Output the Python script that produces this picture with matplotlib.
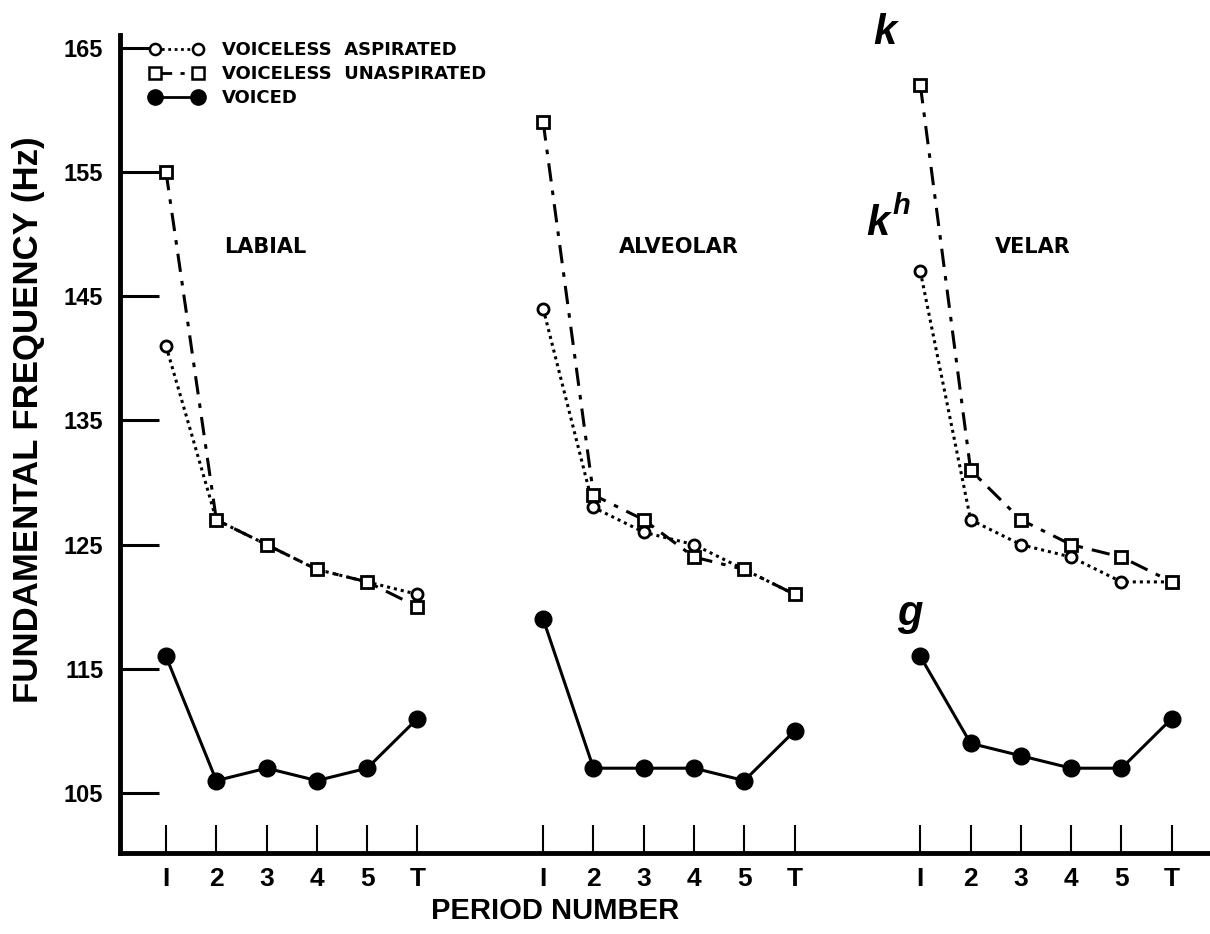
import matplotlib.pyplot as plt
from matplotlib.lines import Line2D

# Werte (Hz)
periods = ["I", "2", "3", "4", "5", "T"]
places = ["LABIAL", "ALVEOLAR", "VELAR"]
group_start = [0, 7.5, 15]

aspirated = {
    "LABIAL": [141, 127, 125, 123, 122, 121],
    "ALVEOLAR": [144, 128, 126, 125, 123, 121],
    "VELAR": [147, 127, 125, 124, 122, 122],
}
unaspirated = {
    "LABIAL": [155, 127, 125, 123, 122, 120],
    "ALVEOLAR": [159, 129, 127, 124, 123, 121],
    "VELAR": [162, 131, 127, 125, 124, 122],
}
voiced = {
    "LABIAL": [116, 106, 107, 106, 107, 111],
    "ALVEOLAR": [119, 107, 107, 107, 106, 110],
    "VELAR": [116, 109, 108, 107, 107, 111],
}
yticks = [105, 115, 125, 135, 145, 155, 165]

plt.rcParams['font.family'] = ['Liberation Sans', 'DejaVu Sans']

fig = plt.figure(figsize=(12.1, 9.34), dpi=100)
ax = fig.add_axes([0.0992, 0.0867, 0.9008, 0.876])

dotted = (0, (1, 1.3))
dashdot = (0, (6, 3, 1.5, 3))
label_shift = [1.97, 2.7, 2.24]

xt, xl = [], []
for place, x0, dx in zip(places, group_start, label_shift):
    xs = [x0 + i for i in range(len(periods))]
    xt += xs
    xl += periods
    ax.plot(xs, aspirated[place], linestyle=dotted, color='black', lw=2.2,
            marker='o', ms=8, mfc='white', mec='black', mew=2)
    ax.plot(xs, unaspirated[place], linestyle=dashdot, color='black', lw=2.2,
            marker='s', ms=8, mfc='white', mec='black', mew=2)
    ax.plot(xs, voiced[place], linestyle='-', color='black', lw=2.2,
            marker='o', ms=12, mfc='black', mec='black')
    ax.text(x0 + dx, 149, place, fontsize=15, fontweight='bold', family='DejaVu Sans',
            ha='center', va='center')

ax.set_xlim(-0.915, 20.76)
ax.set_ylim(100.17, 166.05)
ax.set_xticks(xt)
ax.set_xticklabels(xl, fontsize=19, fontweight='bold')
ax.set_yticks(yticks)
ax.set_yticklabels([str(v) for v in yticks], fontsize=17, fontweight='bold')
ax.tick_params(axis='y', direction='in', length=28, width=2.2, pad=12)
ax.tick_params(axis='x', direction='in', length=20, width=1.5, pad=10)

for s in ['top', 'right']:
    ax.spines[s].set_visible(False)
ax.spines['left'].set_linewidth(3.5)
ax.spines['bottom'].set_linewidth(3.5)

ax.set_ylabel("FUNDAMENTAL FREQUENCY (Hz)", fontsize=25, fontweight='bold')
ax.yaxis.set_label_coords(-0.069, 0.53)
ax.set_xlabel("PERIOD NUMBER", fontsize=21, fontweight='bold')
ax.xaxis.set_label_coords((555 - 120) / 1090, -0.054)

# Legende
handles = [
    Line2D([], [], linestyle=dotted, color='black', lw=2, marker='o', ms=8,
           mfc='white', mec='black', mew=1.8),
    Line2D([], [], linestyle=dashdot, color='black', lw=2, marker='s', ms=8,
           mfc='white', mec='black', mew=1.8),
    Line2D([], [], linestyle='-', color='black', lw=2, marker='o', ms=11,
           mfc='black', mec='black'),
]
labels = ["VOICELESS  ASPIRATED", "VOICELESS  UNASPIRATED", "VOICED"]
ax.legend(handles, labels, loc='upper left', bbox_to_anchor=(0.012, 1.012), frameon=False,
          numpoints=2, handlelength=3.0, handletextpad=1.0, labelspacing=0.32,
          prop={'size': 13, 'weight': 'bold', 'family': 'DejaVu Sans'})

# Lautsymbole
ax.text(14.3, 166.2, "k", fontsize=30, fontweight='bold', style='italic', ha='center', va='center')
ax.text(14.16, 150.8, "k", fontsize=30, fontweight='bold', style='italic', ha='center', va='center')
ax.text(14.62, 152.3, "h", fontsize=21, fontweight='bold', style='italic', ha='center', va='center')
ax.text(14.8, 119.4, "g", fontsize=30, fontweight='bold', style='italic', ha='center', va='center')

fig.savefig("out.png", dpi=100)
